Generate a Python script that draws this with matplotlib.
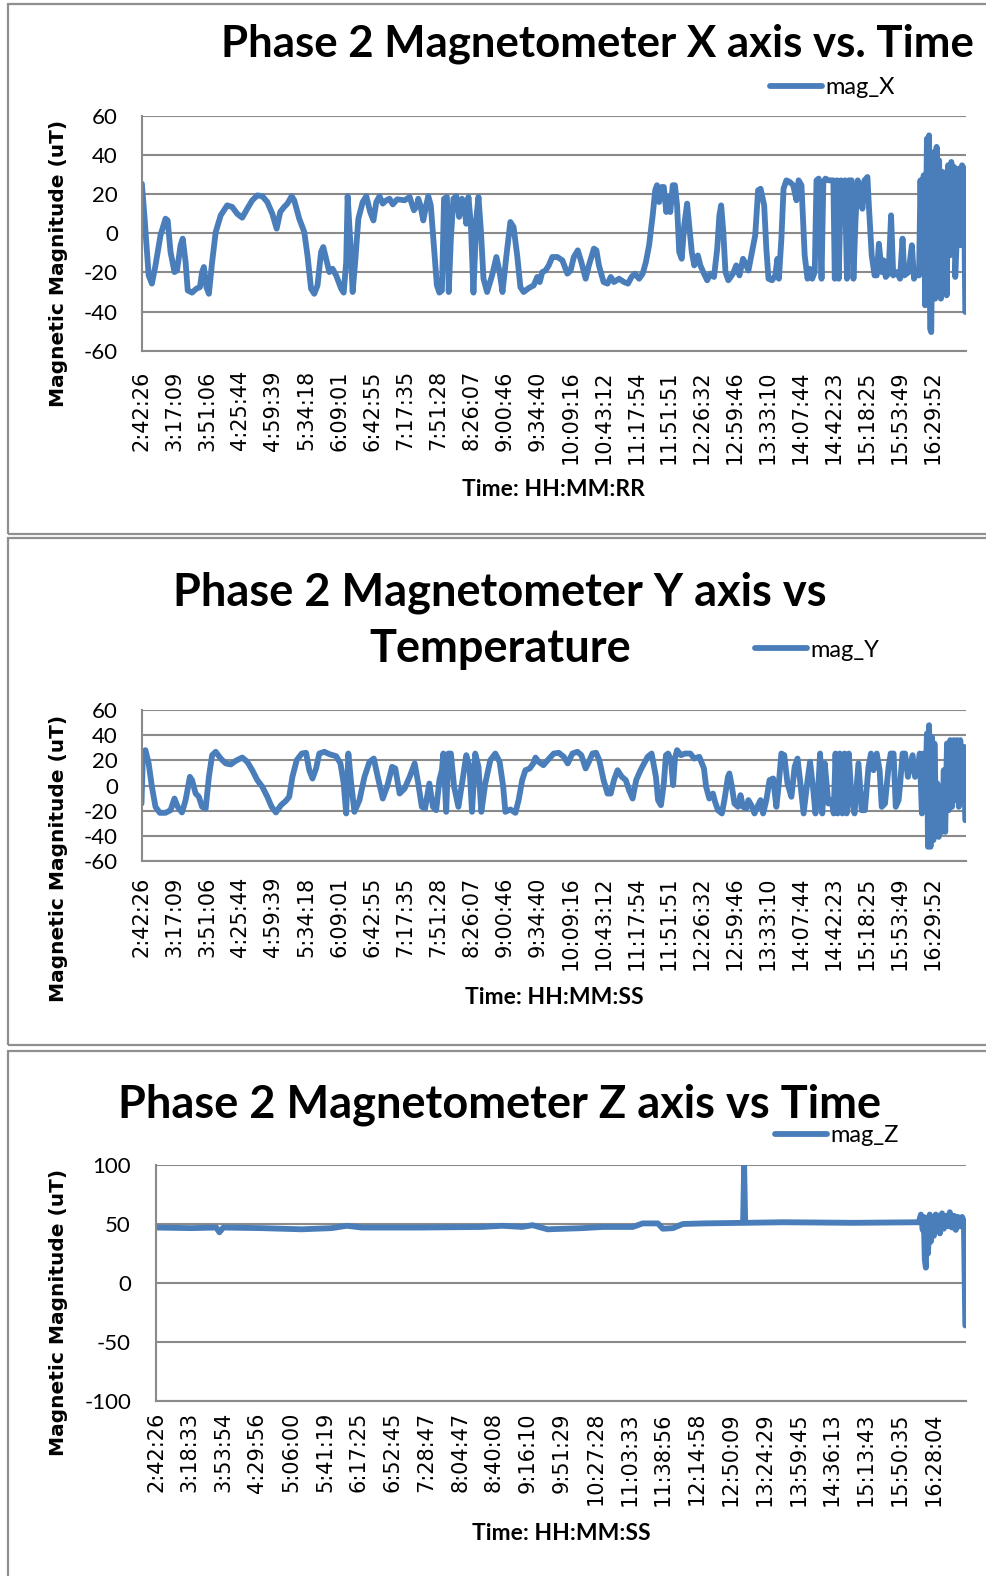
import matplotlib
matplotlib.use("Agg")
import matplotlib.pyplot as plt
from matplotlib.patches import Rectangle

plt.rcParams["axes.unicode_minus"] = False

# ─────────────────────────────────────────────────────────────────────────────
# Phase 2 magnetometer readings (sample number -> uT)
# ─────────────────────────────────────────────────────────────────────────────

xy_time_labels = [
    "2:42:26", "3:17:09", "3:51:06", "4:25:44", "4:59:39", "5:34:18", "6:09:01",
    "6:42:55", "7:17:35", "7:51:28", "8:26:07", "9:00:46", "9:34:40", "10:09:16",
    "10:43:12", "11:17:54", "11:51:51", "12:26:32", "12:59:46", "13:33:10",
    "14:07:44", "14:42:23", "15:18:25", "15:53:49", "16:29:52",
]
z_time_labels = [
    "2:42:26", "3:18:33", "3:53:54", "4:29:56", "5:06:00", "5:41:19", "6:17:25",
    "6:52:45", "7:28:47", "8:04:47", "8:40:08", "9:16:10", "9:51:29", "10:27:28",
    "11:03:33", "11:38:56", "12:14:58", "12:50:09", "13:24:29", "13:59:45",
    "14:36:13", "15:13:43", "15:50:35", "16:28:04",
]

sample_x = [
    1, 8, 20, 29, 39, 53, 67, 73, 81, 92, 99, 109, 115, 123, 129, 141, 153, 163,
    169, 174, 181, 188, 197, 207, 221, 239, 253, 267, 281, 295, 309, 323, 337,
    351, 365, 377, 387, 398, 407, 419, 426, 440, 454, 463, 473, 482, 491, 501,
    507, 515, 524, 533, 543, 557, 564, 571, 575, 583, 589, 596, 605, 617, 627,
    638, 647, 655, 664, 673, 683, 692, 701, 713, 734, 748, 760, 769,
    772, 778, 786, 794, 800, 807, 814, 824, 831, 838, 844, 852, 857, 863, 870,
    878, 886, 894, 900, 906, 912, 919, 926, 934, 940, 947, 954, 964, 978, 990,
    999, 1007, 1018, 1029, 1038, 1048, 1057, 1066, 1080, 1094, 1104, 1111,
    1118, 1127, 1136, 1146, 1160, 1174, 1188, 1197, 1206, 1217, 1227, 1239,
    1248, 1262, 1269, 1276, 1289, 1300, 1309, 1318, 1332, 1346, 1357, 1367,
    1376, 1388, 1398, 1407, 1416, 1426, 1433, 1438, 1444, 1451, 1457, 1464,
    1471, 1475, 1482, 1488, 1494, 1500, 1507, 1514, 1522,
    1535, 1542, 1552, 1559, 1569, 1578, 1587, 1597, 1606, 1612, 1617, 1623,
    1629, 1637, 1650, 1659, 1668, 1678, 1687, 1693, 1703, 1712, 1720, 1727,
    1737, 1743, 1749, 1759, 1768, 1774, 1778, 1785, 1791, 1799, 1808, 1818,
    1827, 1833, 1841, 1850, 1858, 1864, 1871, 1878, 1883, 1889, 1897, 1902,
    1908, 1916, 1930, 1934, 1940, 1945, 1951, 1958, 1962, 1968, 1973, 1981,
    1986, 1992, 1998, 2004, 2011, 2017, 2025, 2029, 2037, 2045, 2051, 2057,
    2065, 2070, 2076, 2084, 2091, 2097, 2107, 2116, 2123, 2128, 2140, 2149,
    2155, 2163, 2169, 2173, 2177, 2182, 2186, 2191, 2194, 2197, 2200, 2203,
    2207, 2211, 2214, 2218, 2222, 2225, 2230, 2235, 2239, 2242, 2246, 2250,
    2255, 2259, 2263, 2267, 2270, 2275, 2280, 2284, 2289, 2294, 2298,
]
mag_x = [
    25.4, 9.2, -21.5, -25.7, -16.4, -1, 7.5, 6.6, -9.5, -19.8, -19, -6.1, -2.7,
    -14.7, -29.2, -30.3, -28.3, -27.5, -19.8, -17.2, -27.5, -30.9, -14.7, 0.7,
    9.2, 14.3, 13.5, 10, 8, 12.6, 16.9, 19.4, 19, 16, 10, 2.4, 10.9, 13.5, 15.2,
    19, 16.9, 7.5, 0.7, -11.3, -28.3, -30.9, -26.6, -9.5, -7, -13, -19.8, -18.1,
    -21.5, -28.3, -30.3, -14.7, 19, -6.1, -30, -14.7, 7.5, 16, 19, 10.9, 6.6,
    16, 19, 15.2, 16.9, 17.7, 14.8, 17.4, 16.9, 18.6, 11.8, 14.3,
    17.7, 14.3, 6.6, 14.3, 19, 14.3, -2.7, -26.6, -30.3, -29.2, 17.7, 18.6,
    -30, -2.7, 17.7, 19, 8.4, 17.7, 14.3, 4.9, 18.6, 4.1, -30.3, 7.5, 18.6,
    0.7, -23.2, -30, -21.5, -12.1, -19.8, -30, -11.3, 5.8, 3.2, -11.3, -27.5,
    -30, -28, -26.6, -22.3, -24.9, -19.8, -19, -16.4, -12.1, -12.1, -13.8,
    -20.6, -19, -12.1, -8.7, -14.7, -23.2, -16.4, -7.8, -8.7, -16.4, -24.9,
    -25.7, -22.3, -24.9, -23.2, -24.9, -25.7, -22.3, -20.6, -23.2, -20.6,
    -14.7, -6.1, 9.2, 22, 24.6, 16, 23.7, 23.7, 10.9, 18.6, 10.9, 24.6, 24.6,
    14.3, -9.5, -13, 4.1, 15.2,
    -9.5, -16.4, -11.3, -16.4, -20.6, -24, -20.6, -22.3, -7.8, 9.2, 14.3, 0.7,
    -19.8, -24, -20.6, -16.4, -21.5, -13, -16.4, -19, -9.5, -1, 22, 22.8,
    14.3, -7.8, -23.2, -24, -21.5, -13, -23.2, -2.7, 22.8, 27.1, 26.3, 24.6,
    16.9, 27.1, 24.6, -11.3, -23.2, -18.1, -23.2, -19.8, 27.1, 28, -23.2, 26.3,
    28, 27.1, 27.1, -23.2, 27.1, -23.2, 27.1, 22.8, 27.1, -23.2, 27.1, 27.1,
    -23.2, 7.5, 27.1, 24.6, 12.6, 27.1, 28.8, 14.3, -11.3, -21.5, -21.5, -5.3,
    -19.8, -13.8, -22.3, -20.6, 9.2, -21.5, -19.8, -23.2, -2.7, -21.5, -19.8,
    -6.1, -23.2, -19.8, -21.5, 27.1, -9.5, 29.7, -36.8, 48.4, 5.8, 50.1,
    -48.8, -50.5, 14.3, 41.6, -33.4, 44.2, -30, 37.3, -33.4, 31.4, -16.4,
    21.1, -31.7, 34.8, -11.3, 36.5, -2.7, 33.9, -22.3, 0.7, 33.1, -6.1, 34.8,
    33.1, -40.2,
]

sample_y = [
    0, 4, 11, 20, 29, 39, 51, 67, 81, 92, 101, 113, 123, 135, 141, 151, 160,
    169, 179, 188, 197, 207, 221, 235, 249, 263, 281, 295, 309, 323, 337, 351,
    363, 375, 389, 403, 412, 421, 433, 447, 459, 468, 477, 487, 496, 510, 524,
    543, 555, 564, 571, 577, 585, 594, 608, 622, 636, 648, 659, 673, 685, 699,
    708, 720, 734, 748, 762,
    772, 782, 791, 803, 813, 822, 831, 838, 842, 850, 856, 863, 872, 884, 897,
    906, 915, 922, 931, 940, 948, 959, 973, 987, 999, 1009, 1015, 1029, 1043,
    1052, 1062, 1071, 1083, 1093, 1099, 1108, 1121, 1133, 1150, 1164, 1178,
    1189, 1202, 1216, 1227, 1239, 1248, 1258, 1268, 1277, 1289, 1300, 1309,
    1318, 1328, 1340, 1351, 1360, 1370, 1380, 1392, 1412, 1423, 1435, 1441,
    1449, 1457, 1463, 1469, 1477, 1483, 1488, 1494, 1505, 1516,
    1531, 1542, 1556, 1569, 1575, 1584, 1594, 1600, 1608, 1619, 1626, 1636,
    1640, 1647, 1654, 1664, 1671, 1678, 1687, 1693, 1701, 1710, 1720, 1727,
    1734, 1743, 1752, 1762, 1771, 1777, 1785, 1793, 1802, 1813, 1822, 1830,
    1837, 1847, 1858, 1865, 1874, 1880, 1888, 1893, 1899, 1906, 1916, 1925,
    1931, 1936, 1942, 1948, 1955, 1961, 1967, 1973, 1981, 1989, 2000, 2009,
    2018, 2028, 2035, 2042, 2051, 2059, 2065, 2074, 2084, 2090, 2098, 2104,
    2112, 2116, 2123, 2130, 2138, 2144, 2151, 2158, 2166, 2171, 2177, 2182,
    2186, 2191, 2194, 2197, 2201, 2205, 2209, 2212, 2216, 2220, 2224, 2228,
    2233, 2238, 2242, 2247, 2252, 2256, 2261, 2266, 2270, 2275, 2280, 2284,
    2289, 2294, 2298,
]
mag_y = [
    -14.4, 25.5, 28.2, 17.6, -1, -17, -21.8, -21.8, -19.7, -10.4, -17, -21.5,
    -11.7, 6.9, 4.3, -6.4, -9, -17, -18.4, 6.9, 24.2, 26.9, 21.5, 17.6, 16.8,
    19.7, 22.3, 18.9, 12.2, 4.3, -1, -9, -17, -21.5, -15.7, -12.2, -9, 6.9,
    20.2, 25.5, 26.1, 12.2, 5.6, 13.6, 25.5, 26.9, 25, 23.4, 17.6, 1.6, -22.3,
    25.5, 1.6, -21, -11.7, 6.9, 18.9, 21.5, 6.9, -10.4, -1, 14.9, 13.6, -6.4,
    -2.4, 6.9, 17.6,
    1.6, -17, -18.4, 1.6, -17, -19.7, 4.3, 12.2, 25.5, -21, 25.5, 25.5, -1,
    -17, 6.9, 24.2, 14.9, -21, 25.5, 14.9, -21, 1.6, 20.2, 25.5, 18.9, -1, -21,
    -19.1, -21.8, -11.7, 4.3, 12.2, 13.6, 17.6, 22.3, 18.9, 16.2, 20.2, 25.5,
    26.1, 22.9, 17.6, 25.5, 26.9, 24.2, 13.6, 18.9, 25.5, 26.1, 20.2, 4.3,
    -6.4, -6.4, 4.3, 12.2, 6.9, 4.3, -3.7, -10.4, 4.3, 12.2, 22.9, 25.5, 6.9,
    -11.7, -15.7, 1.6, 24.2, 25.5, 20.2, 0.3, 21.5, 28.2, 24.2, 25.5,
    25.5, 21.5, 22.9, 13.6, -1, -10.4, -6.4, -13, -19.7, -22.3, -11.7, 6.9,
    9.6, -1, -14.4, -17, -7.7, -17, -18.4, -11.7, -15.7, -22.3, -15.7, -11.7,
    -22.3, -11.7, 4.3, 5.6, -17, -1, 25.5, 24.2, 1.6, -9, 14.9, 21.5, 4.3,
    -22.3, 4.3, 18.9, -3.7, -22.3, -1, 25.5, -22.3, 17.6, -14.4, -11.7, -22.3,
    25.5, -22.3, 25.5, -22.3, 25.5, -22.3, 25.5, -11.7, -22.3, 17.6, -19.7,
    -19.7, 14.9, 25.5, 12.2, 25.5, 12.2, -17, -14.4, 14.9, 25.5, 25.5, -17,
    -11.7, 0.3, 25.5, 25.5, 6.9, 14.9, 24.2, 6.9, 14.9, 25.5, -22.3, 25.5,
    -11.7, 41.5, -48.9, 48.1, -48.9, 38.8, -43.6, 33.5, -19.7, 1.6, -41, -11.7,
    -37, 12.2, -37, 33.5, -19.7, 36.2, -17, 36.2, -11.7, 36.2, -17, 36.2, 1.6,
    30.9, -27.7,
]

sample_z = [
    0, 100, 171, 180, 191, 299, 413, 499, 542, 584, 755, 926, 983, 1040, 1069,
    1112, 1211, 1268, 1354, 1382, 1425, 1439, 1468, 1496, 1553, 1667, 1670,
    1673, 1781, 1981, 2166,
    2172, 2177, 2180, 2183, 2186, 2189, 2192, 2197, 2200, 2206, 2209, 2214,
    2217, 2223, 2226, 2232, 2237, 2243, 2249, 2254, 2260, 2266, 2271, 2277,
    2283, 2289, 2294, 2298,
]
mag_z = [
    47, 46.5, 47, 43, 47, 46.5, 45.5, 46.5, 48.5, 47, 47, 47.5, 48.5, 47.5, 49,
    45.5, 46.5, 47.5, 47.5, 50.5, 50.5, 46, 46.5, 50, 50.5, 51, 100, 51, 51.5,
    51, 51.5,
    58, 45, 56, 20, 13, 55, 25, 58, 35, 56, 40, 58, 45, 57, 42, 59, 46, 57, 48,
    60, 47, 57, 45, 56, 48, 56, 52, -36,
]

# ─────────────────────────────────────────────────────────────────────────────
# Layout helpers (pixel boxes on a 986 x 1576 canvas)
# ─────────────────────────────────────────────────────────────────────────────

W, H = 986, 1576
LINE = "#4a7ebb"
GRID = "#8a8a8a"
FRAME = "#8f8f8f"
TITLE_FONT = ["Lato", "DejaVu Sans"]
NARROW_FONT = ["Lato", "DejaVu Sans"]

fig = plt.figure(figsize=(W / 100, H / 100), dpi=100)


def fx(px):
    return px / W


def fy(py):
    return 1 - py / H


def add_panel_axes(left, top, right, bottom):
    return fig.add_axes([fx(left), fy(bottom), (right - left) / W, (bottom - top) / H])


def frame(top, bottom):
    fig.add_artist(Rectangle((fx(8), fy(bottom)), 1.2, (bottom - top) / H,
                             transform=fig.transFigure, fill=False,
                             ec=FRAME, lw=1.6))


def style_axes(ax, ylim, yticks, labels, step, ypad, xpad):
    ax.set_xlim(0, 2300)
    ax.set_ylim(*ylim)
    ax.set_yticks(yticks)
    ax.set_xticks([i * step for i in range(len(labels))])
    ax.set_xticklabels(labels, rotation=90, fontsize=15, family="DejaVu Sans")
    for lab in ax.get_yticklabels():
        lab.set_family(NARROW_FONT)
        lab.set_fontsize(16)
    ax.grid(axis="y", color=GRID, lw=1.5)
    ax.set_axisbelow(True)
    for side in ("top", "right"):
        ax.spines[side].set_visible(False)
    for side in ("left", "bottom"):
        ax.spines[side].set_color(GRID)
        ax.spines[side].set_linewidth(1.5)
    ax.tick_params(axis="y", length=0, pad=ypad)
    ax.tick_params(axis="x", length=0, pad=xpad)


def legend_at(ax, px, py):
    ax.legend(loc="center left", bbox_to_anchor=(fx(px), fy(py)),
              bbox_transform=fig.transFigure, frameon=False, borderpad=0,
              borderaxespad=0, handlelength=2.2, handletextpad=0.15,
              prop={"family": NARROW_FONT, "size": 17})


def plot_series(ax, x, y, label):
    ax.plot(x, y, color=LINE, lw=4.2, label=label,
            solid_joinstyle="round", solid_capstyle="round")


# ── Panel 1: X axis ──────────────────────────────────────────
frame(4, 534)
ax1 = add_panel_axes(141.5, 116, 966, 350.7)
plot_series(ax1, sample_x, mag_x, "mag_X")
style_axes(ax1, (-60, 60), range(-60, 61, 20), xy_time_labels, 92, 17, 14)
legend_at(ax1, 770, 88)
fig.text(fx(221), fy(56), "Phase 2 Magnetometer X axis vs. Time", ha="left",
         va="baseline", fontsize=31.5, weight="bold", family=TITLE_FONT)
fig.text(fx(58), fy(263), "Magnetic Magnitude (uT)", rotation=90, ha="center",
         va="center", fontsize=14.5, weight="bold", family="DejaVu Sans")
fig.text(fx(553), fy(489), "Time: HH:MM:RR", ha="center", va="center",
         fontsize=16.5, weight="bold", family=NARROW_FONT)

# ── Panel 2: Y axis ──────────────────────────────────────────
frame(538, 1045)
ax2 = add_panel_axes(141.5, 710.3, 966, 860.7)
plot_series(ax2, sample_y, mag_y, "mag_Y")
style_axes(ax2, (-60, 60), range(-60, 61, 20), xy_time_labels, 92, 17, 11.5)
legend_at(ax2, 755, 650)
fig.text(fx(500), fy(605), "Phase 2 Magnetometer Y axis vs", ha="center",
         va="baseline", fontsize=32.5, weight="bold", family=TITLE_FONT)
fig.text(fx(500), fy(662), "Temperature", ha="center",
         va="baseline", fontsize=32.5, weight="bold", family=TITLE_FONT)
fig.text(fx(58), fy(858), "Magnetic Magnitude (uT)", rotation=90, ha="center",
         va="center", fontsize=14.5, weight="bold", family="DejaVu Sans")
fig.text(fx(554), fy(998), "Time: HH:MM:SS", ha="center", va="center",
         fontsize=16.5, weight="bold", family=NARROW_FONT)

# ── Panel 3: Z axis ──────────────────────────────────────────
frame(1051, 1600)
ax3 = add_panel_axes(156, 1165, 966, 1401)
plot_series(ax3, sample_z, mag_z, "mag_Z")
style_axes(ax3, (-100, 100), range(-100, 101, 50), z_time_labels, 96, 18, 8)
legend_at(ax3, 775, 1136)
fig.text(fx(500), fy(1118), "Phase 2 Magnetometer Z axis vs Time", ha="center",
         va="baseline", fontsize=32.5, weight="bold", family=TITLE_FONT)
fig.text(fx(58), fy(1312), "Magnetic Magnitude (uT)", rotation=90, ha="center",
         va="center", fontsize=14.5, weight="bold", family="DejaVu Sans")
fig.text(fx(561), fy(1533), "Time: HH:MM:SS", ha="center", va="center",
         fontsize=16.5, weight="bold", family=NARROW_FONT)

fig.savefig("out.png", dpi=100)
